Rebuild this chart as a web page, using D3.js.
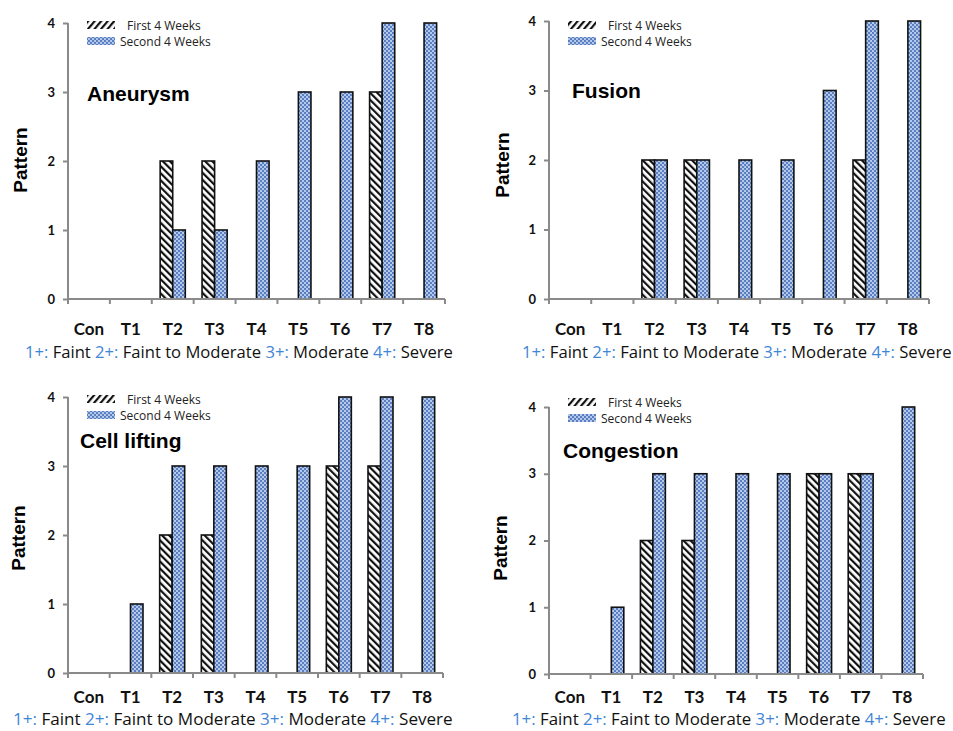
<html>
<head>
  <script src="https://d3js.org/d3.v7.min.js"></script>
  <title>Pattern scores</title>
</head>
<body style="margin:0;background:#fff">
  <svg id="chart" width="953" height="731"></svg>
  <script>
    // data
    var categories = ["Con","T1","T2","T3","T4","T5","T6","T7","T8"];
    var yTicks = [0,1,2,3,4];
    var seriesNames = ["First 4 Weeks","Second 4 Weeks"];
    var panelTitles = ["Aneurysm","Fusion","Cell lifting","Congestion"];
    var aneurysmFirst  = [0,0,2,2,0,0,0,3,0];
    var aneurysmSecond = [0,0,1,1,2,3,3,4,4];
    var fusionFirst    = [0,0,2,2,0,0,0,2,0];
    var fusionSecond   = [0,0,2,2,2,2,3,4,4];
    var liftingFirst   = [0,0,2,2,0,0,3,3,0];
    var liftingSecond  = [0,1,3,3,3,3,4,4,4];
    var congestFirst   = [0,0,2,2,0,0,3,3,0];
    var congestSecond  = [0,1,3,3,3,3,3,3,4];
    var scaleNote = [["1+:","Faint"],["2+:","Faint to Moderate"],["3+:","Moderate"],["4+:","Severe"]];

    var seriesByPanel = [
      [aneurysmFirst, aneurysmSecond],
      [fusionFirst, fusionSecond],
      [liftingFirst, liftingSecond],
      [congestFirst, congestSecond]
    ];

    // layout of each panel
    var layout = [
      {xL:68,  xR:445, yT:23,  yB:299, tx:87,  ty:101, lx:87,  ly:20,  px:20,  py:160, cy:335, nx:25,  nw:428, ny:358},
      {xL:549, xR:929, yT:21,  yB:299, tx:572, ty:98,  lx:568, ly:20,  px:502, py:165, cy:335, nx:522, nw:430, ny:358},
      {xL:68,  xR:443, yT:397, yB:673, tx:80,  ty:448, lx:87,  ly:394, px:18,  py:538, cy:703, nx:13,  nw:440, ny:725},
      {xL:549, xR:923, yT:407, yB:674, tx:563, ty:458, lx:568, ly:397, px:500, py:548, cy:703, nx:512, nw:434, ny:725}
    ];

    var svg = d3.select("#chart");
    var defs = svg.append("defs");

    function hatch(id, angle){
      var p = defs.append("pattern")
        .attr("id", id)
        .attr("patternUnits","userSpaceOnUse")
        .attr("width", 5).attr("height", 5)
        .attr("patternTransform","rotate(" + angle + ")");
      p.append("rect").attr("width",5).attr("height",5).attr("fill","#fff");
      p.append("rect").attr("width",2.2).attr("height",5).attr("fill","#111");
    }
    hatch("hatchBar", -45);
    hatch("hatchKey", 40);

    var dots = defs.append("pattern")
      .attr("id","dots")
      .attr("patternUnits","userSpaceOnUse")
      .attr("width",4).attr("height",4);
    dots.append("rect").attr("width",4).attr("height",4).attr("fill","#b4c8ea");
    dots.append("rect").attr("width",2).attr("height",2).attr("fill","#5a7ec0");
    dots.append("rect").attr("x",2).attr("y",2).attr("width",2).attr("height",2).attr("fill","#5a7ec0");

    var fills = ["url(#hatchBar)","url(#dots)"];
    var axisColor = "#8a8a8a";

    layout.forEach(function(L, pi){
      var g = svg.append("g");
      var x0 = d3.scaleBand().domain(categories).range([L.xL, L.xR])
        .paddingInner(0.4).paddingOuter(0.2);
      var x1 = d3.scaleBand().domain([0,1]).range([0, x0.bandwidth()]);
      var y = d3.scaleLinear().domain([0,4]).range([L.yB, L.yT]);
      var step = x0.step();

      // bars
      seriesByPanel[pi].forEach(function(vals, si){
        g.selectAll(null)
          .data(vals.map(function(v,i){ return {c:categories[i], v:v}; }).filter(function(d){ return d.v > 0; }))
          .enter().append("rect")
          .attr("x", function(d){ return x0(d.c) + x1(si); })
          .attr("width", x1.bandwidth())
          .attr("y", function(d){ return y(d.v); })
          .attr("height", function(d){ return y(0) - y(d.v); })
          .attr("fill", fills[si])
          .attr("stroke","#111")
          .attr("stroke-width",1.6);
      });

      // y axis
      var yAxis = g.append("g").attr("transform","translate(" + L.xL + ",0)")
        .call(d3.axisLeft(y).tickValues(yTicks).tickSize(5).tickFormat(d3.format("d")));
      yAxis.select(".domain").attr("stroke", axisColor).attr("stroke-width",2).attr("d","M0," + L.yT + "V" + L.yB);
      yAxis.selectAll(".tick line").attr("stroke", axisColor).attr("stroke-width",2);
      yAxis.selectAll(".tick text")
        .attr("x",-13)
        .style("font-family","Lato, sans-serif").style("font-weight","bold")
        .style("font-size","13px").attr("fill","#111");

      // x axis: ticks on the band edges
      var edges = d3.range(categories.length + 1).map(function(i){ return L.xL + i*step; });
      g.append("line")
        .attr("x1", L.xL).attr("x2", L.xR).attr("y1", L.yB).attr("y2", L.yB)
        .attr("stroke", axisColor).attr("stroke-width",2);
      g.selectAll(null).data(edges).enter().append("line")
        .attr("x1", function(d){ return d; }).attr("x2", function(d){ return d; })
        .attr("y1", L.yB).attr("y2", L.yB + 5)
        .attr("stroke", axisColor).attr("stroke-width",2);
      g.selectAll(null).data(categories).enter().append("text")
        .attr("x", function(d){ return x0(d) + x0.bandwidth()/2; })
        .attr("y", L.cy)
        .attr("text-anchor","middle")
        .style("font-family","Lato, sans-serif").style("font-weight","bold")
        .style("font-size","17px").attr("fill","#111")
        .text(function(d){ return d; });

      // axis title
      g.append("text")
        .attr("transform","translate(" + (L.px + 7) + "," + L.py + ") rotate(-90)")
        .attr("text-anchor","middle")
        .style("font-family","Liberation Sans, Arial, sans-serif").style("font-weight","bold")
        .style("font-size","19px").attr("fill","#000")
        .text("Pattern");

      // panel title
      g.append("text")
        .attr("x", L.tx).attr("y", L.ty)
        .style("font-family","Liberation Sans, Arial, sans-serif").style("font-weight","bold")
        .style("font-size","21px").attr("fill","#000")
        .text(panelTitles[pi]);

      // legend
      var keyFills = ["url(#hatchKey)","url(#dots)"];
      seriesNames.forEach(function(name, si){
        var yy = L.ly + si*16;
        g.append("rect")
          .attr("x", L.lx).attr("y", yy + 1)
          .attr("width", 28).attr("height", 8)
          .attr("fill", keyFills[si]);
        g.append("text")
          .attr("x", L.lx + (si === 0 ? 40 : 33)).attr("y", yy + 10)
          .style("font-family","Open Sans, sans-serif")
          .style("font-size","12px").attr("fill","#222")
          .text(name);
      });

      // severity note under the axis
      var note = g.append("text")
        .attr("x", L.nx).attr("y", L.ny)
        .style("font-family","Open Sans, sans-serif")
        .style("font-size","15px");
      scaleNote.forEach(function(p, k){
        note.append("tspan").attr("fill","#3f86d6").text((k > 0 ? " " : "") + p[0]);
        note.append("tspan").attr("fill","#111").text(" " + p[1]);
      });
      var w = note.node().getComputedTextLength();
      note.style("font-size", (15 * L.nw / w) + "px");
    });
  </script>
</body>
</html>
